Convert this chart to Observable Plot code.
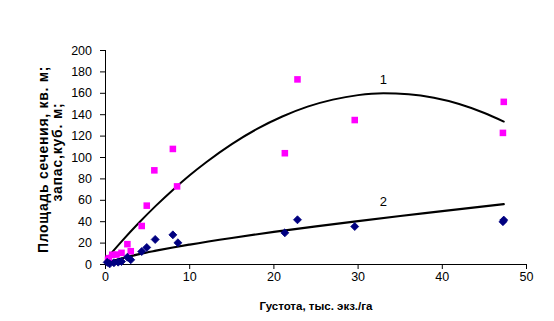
<!DOCTYPE html>
<html><head><meta charset="utf-8">
<script src="https://cdn.jsdelivr.net/npm/d3@7"></script>
<script src="https://cdn.jsdelivr.net/npm/@observablehq/plot@0.6"></script>
<style>body{margin:0;background:#fff;} svg{display:block;}</style>
</head><body><div id="chart"></div>
<script>
// Series 1 (magenta squares): basal area
const s1x = [0.3, 0.4, 0.8, 1.3, 1.9, 2.6, 3.0, 4.3, 4.9, 5.8, 8.0, 8.5, 21.3, 22.8, 29.6, 47.2, 47.3];
const s1y = [4.4, 5.9, 9.1, 9.3, 10.9, 19, 12.4, 36, 55, 88, 108, 73, 104, 173, 135, 123, 152];
// Series 2 (navy diamonds): stock
const s2x = [0.2, 0.5, 1.0, 1.5, 1.9, 2.6, 3.0, 4.3, 4.9, 5.9, 8.0, 8.6, 21.3, 22.8, 29.6, 47.2, 47.3];
const s2y = [2, 0.6, 1.6, 2.2, 2.8, 6.8, 4.4, 12.1, 15.9, 23.4, 27.7, 20.3, 29.6, 41.8, 35.5, 40, 41.5];
// Trend line 1
const t1x = [0.3, 2, 4, 6, 8, 10, 12, 15, 18, 21, 24, 27, 30, 33, 36, 39, 42, 45, 47.3];
const t1y = [7, 22.3, 39.2, 55, 69.7, 83.4, 95.8, 112.5, 126.7, 138.3, 147.5, 154.1, 158.3, 160, 159.1, 155.8, 150, 141.6, 133.6];
// Trend line 2
const t2x = [0.2, 1, 2, 4, 6, 8, 10, 15, 20, 25, 30, 35, 40, 47.3];
const t2y = [1.2, 3.6, 5.9, 9.7, 12.9, 15.9, 18.6, 24.8, 30.5, 35.7, 40.6, 45.3, 49.8, 56.5];
// Curve labels
const labelText = ["1", "2"];
const labelX = [33, 33];
const labelY = [172.6, 58.9];
// Ticks and titles
const xTicks = [0, 10, 20, 30, 40, 50];
const yTicks = [0, 20, 40, 60, 80, 100, 120, 140, 160, 180, 200];
const xTitle = "Густота, тыс. экз./га";
const yTitle1 = "Площадь сечения, кв. м;";
const yTitle2 = "запас,куб. м;";

const pts1 = s1x.map((x, i) => ({x, y: s1y[i]}));
const pts2 = s2x.map((x, i) => ({x, y: s2y[i]}));
const tr1 = t1x.map((x, i) => ({x, y: t1y[i]}));
const tr2 = t2x.map((x, i) => ({x, y: t2y[i]}));
const labs = labelText.map((t, i) => ({t, x: labelX[i], y: labelY[i]}));

const chart = Plot.plot({
  width: 554, height: 321,
  marginLeft: 105, marginRight: 28, marginTop: 50, marginBottom: 57,
  style: {fontFamily: "'Liberation Sans', Arial, sans-serif", fontSize: "12.5px", color: "black", background: "white"},
  x: {domain: [0, 50]},
  y: {domain: [0, 200]},
  marks: [
    Plot.axisX({ticks: xTicks, tickSize: 5, tickPadding: 3, label: null, fontSize: 12.5}),
    Plot.axisY({ticks: yTicks, tickSize: 5, tickPadding: 8.5, label: null, fontSize: 12.5}),
    Plot.ruleY([0], {stroke: "black"}),
    Plot.ruleX([0], {stroke: "black"}),
    Plot.line(tr1, {x: "x", y: "y", stroke: "black", strokeWidth: 2, curve: "monotone-x"}),
    Plot.line(tr2, {x: "x", y: "y", stroke: "black", strokeWidth: 2.2, curve: "monotone-x"}),
    Plot.dot(pts1, {x: "x", y: "y", symbol: "square", r: 3.7, fill: "#ff00ff", stroke: "none"}),
    Plot.dot(pts2, {x: "x", y: "y", symbol: "diamond2", r: 3.6, fill: "#000080", stroke: "#000080", strokeWidth: 0.8}),
    Plot.text(labs, {x: "x", y: "y", text: "t", fontSize: 13, fill: "black"}),
    Plot.text([xTitle], {frameAnchor: "bottom", textAnchor: "middle", lineAnchor: "top", dy: 37, fontWeight: "bold", fontSize: 11.5, fill: "black"}),
    Plot.text([yTitle1], {frameAnchor: "left", textAnchor: "middle", rotate: -90, lineAnchor: "bottom", dx: -58, dy: 2, fontWeight: "bold", fontSize: 14, fill: "black"}),
    Plot.text([yTitle2], {frameAnchor: "left", textAnchor: "middle", rotate: -90, lineAnchor: "bottom", dx: -43.5, dy: -5.5, fontWeight: "bold", fontSize: 14, fill: "black"})
  ]
});
// letter spacing for the rotated titles (Excel renders them wider)
d3.select(chart).selectAll("text").filter(function() { return this.textContent === yTitle1; }).style("letter-spacing", "0.7px");
d3.select(chart).selectAll("text").filter(function() { return this.textContent === yTitle2; }).style("letter-spacing", "0.8px");
document.getElementById("chart").appendChild(chart);
</script>
</body></html>
